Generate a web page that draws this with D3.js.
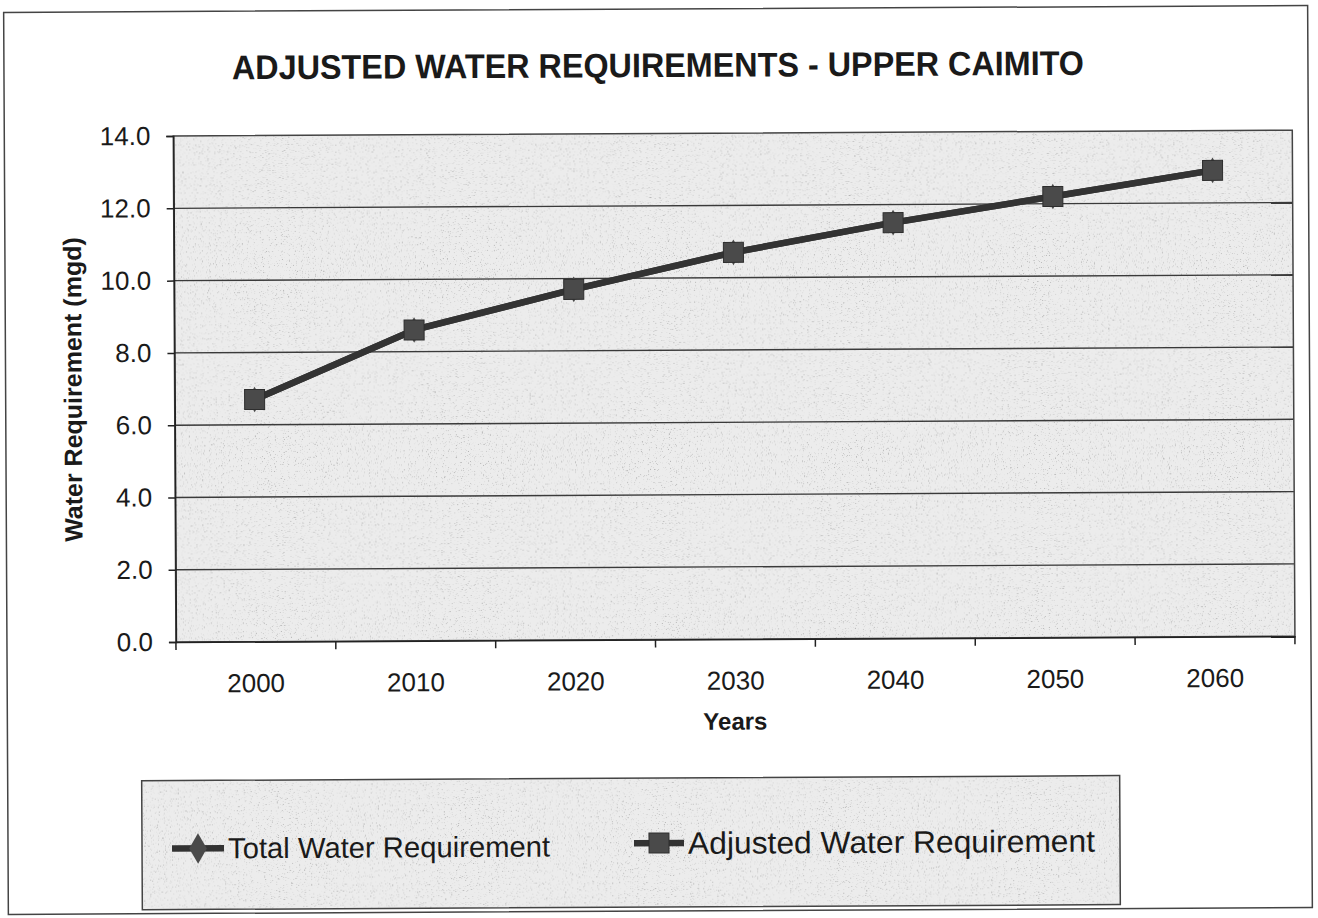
<!DOCTYPE html>
<html>
<head>
<meta charset="utf-8">
<script src="https://cdn.jsdelivr.net/npm/d3@7"></script>
<style>
  html, body { margin: 0; padding: 0; background: #fff; }
  svg { display: block; }
  text { font-family: "Liberation Sans", Arial, Helvetica, sans-serif; fill: #1a1a1a; }
</style>
</head>
<body>
<svg id="chart" width="1318" height="918"></svg>
<script>
// ---- data ----
const years = ["2000", "2010", "2020", "2030", "2040", "2050", "2060"];
const totalWater = [6.7, 8.6, 9.7, 10.7, 11.5, 12.2, 12.9];
const adjustedWater = [6.7, 8.6, 9.7, 10.7, 11.5, 12.2, 12.9];
const yTicks = [0, 2, 4, 6, 8, 10, 12, 14];
const seriesNames = ["Total Water Requirement", "Adjusted Water Requirement"];
const titleText = "ADJUSTED WATER REQUIREMENTS - UPPER CAIMITO";
const yTitle = "Water Requirement (mgd)";
const xTitle = "Years";

// ---- layout ----
const plot = { left: 175, right: 1294, top: 133.5, bottom: 639.5 };

const root = d3.select("#chart");

// speckle filter to imitate scanned texture
const defs = root.append("defs");
const f = defs.append("filter").attr("id", "speckle").attr("x", 0).attr("y", 0).attr("width", 1).attr("height", 1);
f.append("feTurbulence").attr("type", "fractalNoise").attr("baseFrequency", 0.85).attr("numOctaves", 2).attr("seed", 3).attr("result", "noise");
f.append("feColorMatrix").attr("in", "noise").attr("type", "matrix")
  .attr("values", "0 0 0 0 0.45  0 0 0 0 0.45  0 0 0 0 0.45  5 0 0 0 -3.1").attr("result", "dots");
f.append("feComposite").attr("in", "dots").attr("in2", "SourceGraphic").attr("operator", "in").attr("result", "d2");
const fm = f.append("feMerge");
fm.append("feMergeNode").attr("in", "SourceGraphic");
fm.append("feMergeNode").attr("in", "d2");

// the scanned page is very slightly tilted
const svg = root.append("g").attr("transform", "rotate(-0.3,660,460)");

// outer border
svg.append("rect").attr("x", 6).attr("y", 9).attr("width", 1304).attr("height", 902)
  .attr("fill", "#fff").attr("stroke", "#444").attr("stroke-width", 1.5);

// title
svg.append("text").attr("x", 660).attr("y", 77).attr("text-anchor", "middle")
  .attr("font-size", 34).attr("font-weight", "bold").attr("textLength", 852).attr("lengthAdjust", "spacingAndGlyphs")
  .text(titleText);

// scales
const x = d3.scaleBand().domain(years).range([plot.left, plot.right]).padding(0);
const y = d3.scaleLinear().domain([0, 14]).range([plot.bottom, plot.top]);

// plot background
svg.append("rect").attr("x", plot.left).attr("y", plot.top)
  .attr("width", plot.right - plot.left).attr("height", plot.bottom - plot.top)
  .attr("fill", "#ececec").attr("filter", "url(#speckle)");

// gridlines
svg.append("g").selectAll("line").data(yTicks.filter(d => d > 0 && d < 14)).join("line")
  .attr("x1", plot.left).attr("x2", plot.right)
  .attr("y1", d => y(d)).attr("y2", d => y(d))
  .attr("stroke", "#3a3a3a").attr("stroke-width", 1.4);

// plot border
svg.append("rect").attr("x", plot.left).attr("y", plot.top)
  .attr("width", plot.right - plot.left).attr("height", plot.bottom - plot.top)
  .attr("fill", "none").attr("stroke", "#444").attr("stroke-width", 1.5);

// y axis
const yAxis = svg.append("g").attr("transform", `translate(${plot.left},0)`)
  .call(d3.axisLeft(y).tickValues(yTicks).tickFormat(d3.format(".1f")).tickSize(7).tickPadding(16));
yAxis.select(".domain").attr("stroke", "#222").attr("stroke-width", 1.5);
yAxis.selectAll(".tick line").attr("stroke", "#222").attr("stroke-width", 1.5);
yAxis.selectAll(".tick text").attr("font-size", 26).attr("fill", "#1a1a1a")
  .style("font-family", '"Liberation Sans", Arial, sans-serif');

// x axis: labels at band centres, ticks at band edges
const xAxis = svg.append("g").attr("transform", `translate(0,${plot.bottom})`)
  .call(d3.axisBottom(x).tickSize(0).tickPadding(32));
xAxis.select(".domain").attr("stroke", "#222").attr("stroke-width", 1.5);
xAxis.selectAll(".tick text").attr("font-size", 26).attr("fill", "#1a1a1a")
  .style("font-family", '"Liberation Sans", Arial, sans-serif');
const edges = years.map(d => x(d)).concat([x(years[years.length - 1]) + x.bandwidth()]);
svg.append("g").selectAll("line").data(edges).join("line")
  .attr("x1", d => d).attr("x2", d => d)
  .attr("y1", plot.bottom).attr("y2", plot.bottom + 8)
  .attr("stroke", "#222").attr("stroke-width", 1.5);

// axis titles
svg.append("text").attr("transform", `translate(82,${(plot.top + plot.bottom) / 2}) rotate(-90)`)
  .attr("text-anchor", "middle").attr("font-size", 25).attr("font-weight", "bold").text(yTitle);
svg.append("text").attr("x", 734).attr("y", 730).attr("text-anchor", "middle")
  .attr("font-size", 24).attr("font-weight", "bold").text(xTitle);

// series
const lineColor = "#333";
const markerFill = "#4a4a4a";
const cx = d => x(d) + x.bandwidth() / 2;
const line = d3.line().x((d, i) => cx(years[i])).y(d => y(d));

const diamond = d3.symbol().type(d3.symbolDiamond).size(190);
const legendDiamond = d3.symbol().type(d3.symbolDiamond).size(270);

// total water requirement (lies beneath adjusted series)
svg.append("path").datum(totalWater).attr("d", line)
  .attr("fill", "none").attr("stroke", lineColor).attr("stroke-width", 6.5).attr("stroke-linejoin", "round");
svg.append("g").selectAll("path").data(totalWater).join("path")
  .attr("transform", (d, i) => `translate(${cx(years[i])},${y(d)})`)
  .attr("d", diamond).attr("fill", markerFill);

// adjusted water requirement
svg.append("path").datum(adjustedWater).attr("d", line)
  .attr("fill", "none").attr("stroke", lineColor).attr("stroke-width", 6.5).attr("stroke-linejoin", "round");
const sq = 20;
svg.append("g").selectAll("rect").data(adjustedWater).join("rect")
  .attr("x", (d, i) => cx(years[i]) - sq / 2).attr("y", d => y(d) - sq / 2)
  .attr("width", sq).attr("height", sq)
  .attr("fill", markerFill).attr("stroke", "#2e2e2e").attr("stroke-width", 1);

// legend
const lg = svg.append("g");
lg.append("rect").attr("x", 140).attr("y", 778).attr("width", 978).attr("height", 129)
  .attr("fill", "#ececec").attr("filter", "url(#speckle)");
lg.append("rect").attr("x", 140).attr("y", 778).attr("width", 978).attr("height", 129)
  .attr("fill", "none").attr("stroke", "#444").attr("stroke-width", 1.5);

// item 1
lg.append("line").attr("x1", 170).attr("x2", 222).attr("y1", 846).attr("y2", 846)
  .attr("stroke", lineColor).attr("stroke-width", 6.5);
lg.append("path").attr("transform", "translate(196,846)").attr("d", legendDiamond).attr("fill", markerFill);
lg.append("text").attr("x", 226).attr("y", 856).attr("font-size", 29).attr("textLength", 322)
  .attr("lengthAdjust", "spacingAndGlyphs").text(seriesNames[0]);

// item 2
lg.append("line").attr("x1", 632).attr("x2", 682).attr("y1", 843).attr("y2", 843)
  .attr("stroke", lineColor).attr("stroke-width", 6.5);
lg.append("rect").attr("x", 657 - sq / 2).attr("y", 843 - sq / 2).attr("width", sq).attr("height", sq)
  .attr("fill", markerFill).attr("stroke", "#2e2e2e");
lg.append("text").attr("x", 686).attr("y", 854).attr("font-size", 31).attr("textLength", 407)
  .attr("lengthAdjust", "spacingAndGlyphs").text(seriesNames[1]);
</script>
</body>
</html>
